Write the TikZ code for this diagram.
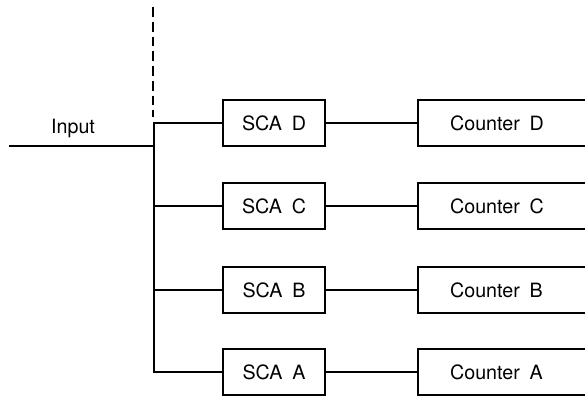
\documentclass[tikz,border=0pt]{standalone}
\usepackage{fontspec}
\setmainfont{TeX Gyre Heros}
\usetikzlibrary{positioning}

\begin{document}
\begin{tikzpicture}[x=0.025cm, y=-0.025cm, line width=1.6pt,
    sca/.style={draw, minimum width=2.55cm, minimum height=1.15cm,
      font=\fontsize{14}{16}\selectfont},
    counter/.style={draw, anchor=west, minimum height=1.15cm,
      inner xsep=0.8cm, text width=3cm, align=left,
      font=\fontsize{14}{16}\selectfont},
    lbl/.style={font=\fontsize{14}{16}\selectfont}]
  \useasboundingbox (0,0) rectangle (585,396);
  \clip (0,0) rectangle (585,396);

  % single channel analysers
  \node[sca] (scaD) at (274,123) {SCA\enspace D};
  \node[sca] (scaC) at (274,206) {SCA\enspace C};
  \node[sca] (scaB) at (274,290) {SCA\enspace B};
  \node[sca] (scaA) at (274,372) {SCA\enspace A};

  % counters, cut off on the right
  \node[counter] (cntD) at (417,123) {Counter\enspace D};
  \node[counter] (cntC) at (417,206) {Counter\enspace C};
  \node[counter] (cntB) at (417,290) {Counter\enspace B};
  \node[counter] (cntA) at (417,372) {Counter\enspace A};

  \draw (scaD) -- (cntD);
  \draw (scaC) -- (cntC);
  \draw (scaB) -- (cntB);
  \draw (scaA) -- (cntA);

  % input and distribution bus
  \coordinate (busD) at (154,123);
  \coordinate (busA) at (154,372);
  \coordinate (in) at (9,146);
  \coordinate (dtop) at (153,7);
  \coordinate (dbot) at (153,117);

  \draw (scaD.west) -- (busD) -- (busA) -- (scaA.west);
  \draw (scaC.west) -- (scaC.west -| busD);
  \draw (scaB.west) -- (scaB.west -| busD);
  \draw (in) -- (in -| busD);
  \node[lbl] (inlbl) at (73,128) {Input};

  \draw[dash pattern=on 7pt off 3.5pt] (dtop) -- (dbot);
\end{tikzpicture}
\end{document}
